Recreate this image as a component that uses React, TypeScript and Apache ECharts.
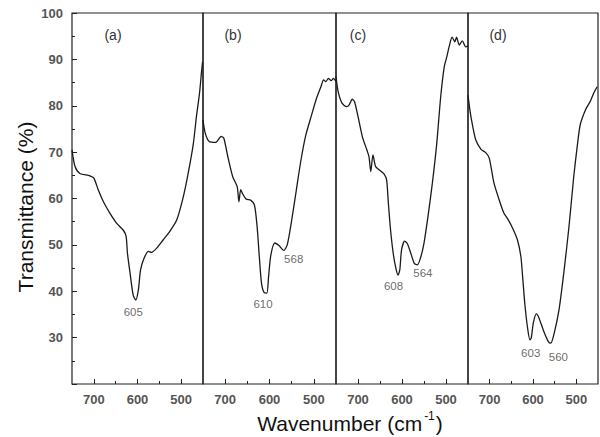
import React, { useEffect, useRef } from "react";
import * as echarts from "echarts";

// ---- Data ----
const panelNames = ["(a)", "(b)", "(c)", "(d)"];
const xTickLabels = [500, 600, 700];
const xMinorTicks = [550, 650];

const wnA = [750, 743, 732, 709, 700, 690, 678, 663, 648, 632, 626, 623, 617, 610, 604, 598, 593, 585, 575, 568, 556, 541, 526, 510, 495, 484, 472, 465, 458, 453, 451];
const tA = [70.5, 66.9, 65.4, 64.9, 64.4, 61.9, 59.3, 56.8, 54.7, 53.1, 51.8, 48.2, 43.9, 39.2, 38.1, 40.3, 44.6, 47.1, 48.6, 48.4, 49.3, 51.1, 52.9, 55.4, 60.4, 65.4, 71.9, 77.7, 82.7, 87.7, 89.5];

const wnB = [750, 745, 736, 721, 709, 703, 694, 683, 673, 669, 665, 661, 653, 642, 634, 628, 623, 618, 612, 606, 602, 597, 588, 578, 568, 560, 551, 540, 529, 518, 506, 495, 484, 478, 473, 467, 461, 456, 450];
const tB = [76.9, 74.1, 72.3, 72.1, 73.4, 73.0, 69.0, 64.7, 62.6, 59.3, 61.9, 61.1, 59.9, 59.6, 58.6, 54.0, 47.5, 41.7, 39.7, 39.6, 43.2, 47.8, 50.4, 49.8, 48.8, 50.0, 54.7, 61.5, 68.3, 73.7, 77.7, 81.3, 84.1, 85.6, 85.2, 85.9, 85.4, 85.9, 85.2];

const wnC = [750, 745, 736, 726, 720, 713, 708, 700, 690, 680, 675, 671, 666, 660, 652, 641, 635, 631, 626, 620, 614, 609, 605, 601, 594, 588, 580, 572, 565, 557, 550, 541, 531, 521, 512, 504, 498, 493, 486, 480, 476, 470, 463, 455, 450];
const tC = [86.3, 83.0, 80.5, 79.8, 80.2, 81.4, 80.9, 77.7, 73.3, 70.5, 69.0, 65.8, 69.4, 66.9, 66.2, 65.3, 64.0, 59.0, 53.2, 48.2, 45.0, 43.5, 44.6, 48.9, 50.8, 50.3, 48.2, 46.0, 45.7, 47.5, 50.4, 56.1, 63.3, 71.9, 82.0, 88.4, 90.6, 92.7, 94.8, 93.8, 94.8, 93.1, 94.0, 92.7, 92.9];

const wnD = [750, 745, 739, 732, 720, 709, 701, 690, 678, 667, 659, 647, 636, 628, 624, 619, 613, 607, 604, 599, 592, 586, 575, 565, 559, 552, 540, 529, 517, 506, 498, 491, 479, 468, 460, 452];
const tD = [82.3, 78.7, 75.5, 72.6, 70.6, 69.9, 68.7, 63.3, 59.7, 56.8, 55.7, 53.6, 51.1, 47.5, 43.2, 37.4, 32.4, 29.5, 29.9, 33.3, 35.1, 34.2, 31.3, 29.2, 28.8, 30.6, 36.0, 43.9, 53.9, 64.7, 71.2, 75.9, 79.1, 80.9, 82.7, 84.1];

// Peak annotations: wavenumber and transmittance of the band minimum
const peakWnA = [605];
const peakTA = [38.1];
const peakWnB = [610, 568];
const peakTB = [39.6, 48.8];
const peakWnC = [608, 564];
const peakTC = [43.5, 45.7];
const peakWnD = [603, 560];
const peakTD = [29.5, 28.8];

// ---- Layout / style (not data) ----
const gridLefts = [72, 203, 336, 468];
const gridWidths = [131, 133, 132, 130];
const gridTop = 13;
const gridHeight = 371;
const peakOffsets = [
  [[-2, 12]],
  [[-2, 11], [10, 9]],
  [[-5, 11], [5, 8]],
  [[-1, 13], [8, 14]],
];
const FONT = "Liberation Sans, Arial, sans-serif";

const wns = [wnA, wnB, wnC, wnD];
const ts = [tA, tB, tC, tD];
const peakWns = [peakWnA, peakWnB, peakWnC, peakWnD];
const peakTs = [peakTA, peakTB, peakTC, peakTD];

export default function App() {
  const ref = useRef<HTMLDivElement>(null);

  useEffect(() => {
    if (!ref.current) return;
    const chart = echarts.init(ref.current, undefined, { renderer: "svg" });

    const grids = gridLefts.map((l, i) => ({
      left: l,
      top: gridTop,
      width: gridWidths[i],
      height: gridHeight,
      show: true,
      borderColor: "#222",
      borderWidth: 1.2,
      backgroundColor: "transparent",
    }));

    const xAxes: any[] = [];
    gridLefts.forEach((_, i) => {
      xAxes.push({
        type: "value",
        gridIndex: i,
        min: 450,
        max: 750,
        inverse: true,
        axisLine: { show: false },
        splitLine: { show: false },
        axisTick: {
          show: true,
          inside: true,
          length: 5,
          customValues: xTickLabels,
          lineStyle: { color: "#222", width: 1 },
        },
        axisLabel: {
          show: true,
          customValues: xTickLabels,
          fontSize: 13,
          fontWeight: "bold",
          color: "#555",
          fontFamily: FONT,
          margin: 9,
        },
      });
      xAxes.push({
        type: "value",
        gridIndex: i,
        min: 450,
        max: 750,
        inverse: true,
        position: "bottom",
        axisLine: { show: false },
        splitLine: { show: false },
        axisTick: {
          show: true,
          inside: true,
          length: 3,
          customValues: xMinorTicks,
          lineStyle: { color: "#222", width: 1 },
        },
        axisLabel: { show: false },
      });
    });

    const yAxes: any[] = gridLefts.map((_, i) =>
      i === 0
        ? {
            type: "value",
            gridIndex: 0,
            min: 20,
            max: 100,
            interval: 10,
            axisLine: { show: false },
            splitLine: { show: false },
            axisTick: { show: true, inside: true, length: 5, lineStyle: { color: "#222" } },
            minorTick: { show: true, splitNumber: 2, length: 3, lineStyle: { color: "#222" } },
            axisLabel: {
              formatter: (v: number) => (v === 20 ? "" : String(v)),
              fontSize: 13,
              fontWeight: "bold",
              color: "#555",
              fontFamily: FONT,
              margin: 9,
            },
          }
        : {
            type: "value",
            gridIndex: i,
            min: 20,
            max: 100,
            show: false,
            splitLine: { show: false },
          }
    );

    const series: any[] = [];
    wns.forEach((wn, i) => {
      series.push({
        type: "line",
        xAxisIndex: 2 * i,
        yAxisIndex: i,
        data: wn.map((w, k) => [w, ts[i][k]]),
        showSymbol: false,
        smooth: 0.25,
        lineStyle: { color: "#1a1a1a", width: 1.3 },
        silent: true,
      });
      series.push({
        type: "scatter",
        xAxisIndex: 2 * i,
        yAxisIndex: i,
        symbolSize: 1,
        itemStyle: { color: "rgba(0,0,0,0)" },
        data: peakWns[i].map((w, k) => ({
          value: [w, peakTs[i][k]],
          label: {
            show: true,
            position: "inside",
            offset: peakOffsets[i][k],
            formatter: String(w),
            fontSize: 11.5,
            color: "#444",
            fontFamily: FONT,
          },
        })),
        silent: true,
      });
    });

    const panelCenters = [113, 233, 358, 498];
    const graphics: any[] = panelNames.map((n, i) => ({
      type: "text",
      x: panelCenters[i],
      y: 35,
      style: {
        text: n,
        fontSize: 14,
        fontFamily: FONT,
        fill: "#333",
        align: "center",
        verticalAlign: "middle",
      },
    }));
    graphics.push({
      type: "text",
      x: 25,
      y: 207,
      rotation: Math.PI / 2,
      style: {
        text: "Transmittance (%)",
        fontSize: 21,
        fontFamily: FONT,
        fill: "#111",
        align: "center",
        verticalAlign: "middle",
      },
    });
    graphics.push({
      type: "text",
      x: 350,
      y: 423,
      style: {
        text: "{b|Wavenumber (cm}{s|-1}{b|)}",
        fontFamily: FONT,
        fill: "#111",
        align: "center",
        verticalAlign: "middle",
        rich: {
          b: { fontSize: 21, fontFamily: FONT, fill: "#111", lineHeight: 26 },
          s: { fontSize: 12, fontFamily: FONT, fill: "#111", verticalAlign: "top", lineHeight: 26, padding: [0, 1, 10, 2] },
        },
      },
    });

    chart.setOption({
      animation: false,
      textStyle: { fontFamily: FONT },
      grid: grids,
      xAxis: xAxes,
      yAxis: yAxes,
      series,
      graphic: graphics,
    });

    return () => chart.dispose();
  }, []);

  return (
    <div
      ref={ref}
      style={{ position: "fixed", left: 0, top: 0, width: 600, height: 437, background: "#fff" }}
    />
  );
}
